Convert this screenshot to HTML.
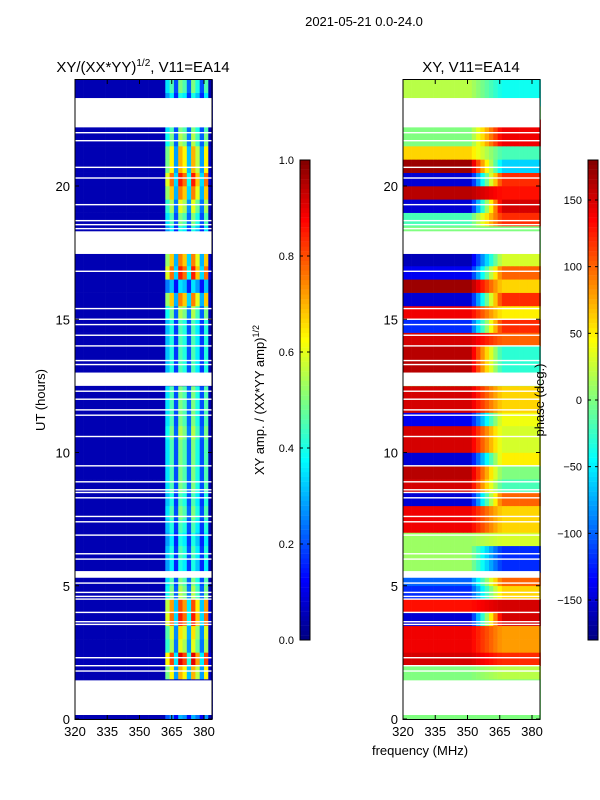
<!DOCTYPE html>
<html><head><meta charset="utf-8"><style>
body{margin:0;background:#fff;}
svg{display:block;font-family:"Liberation Sans","DejaVu Sans",sans-serif;}
</style></head><body>
<svg id="fig" width="600" height="800" viewBox="0 0 600 800">
<text x="364" y="26" font-size="13" text-anchor="middle">2021-05-21 0.0-24.0</text>
<text x="143" y="72" font-size="15" text-anchor="middle">XY/(XX*YY)<tspan font-size="10" dy="-6">1/2</tspan><tspan dy="6">, V11=EA14</tspan></text>
<text x="471" y="72" font-size="15" text-anchor="middle">XY, V11=EA14</text>
<text transform="translate(45,400) rotate(-90)" font-size="13" text-anchor="middle">UT (hours)</text>
<text x="420" y="755" font-size="13" text-anchor="middle">frequency (MHz)</text>
<text transform="translate(264,400) rotate(-90)" font-size="13" text-anchor="middle">XY amp. / (XX*YY amp)<tspan font-size="9" dy="-5">1/2</tspan></text>
<g id="left"></g>
<g id="right"></g>
<g id="cb1"></g>
<g id="cb2"></g>
<text transform="translate(544,400) rotate(-90)" font-size="13" text-anchor="middle">phase (deg.)</text>
</svg>
<script>
// data: rows at 0.5 h, hours 0..23.5
const hours = Array.from({length:48},(_,i)=>i*0.5);
const ampRow = [0.3,0,0,0.7,0.9,0.6,0.65,0.85,0.8,0.55,0.5,0.4,0.45,0.4,0.45,0.5,0.45,0.5,0.5,0.5,0.5,0.55,0.5,0.5,0.5,0,0.45,0.45,0.45,0.45,0.55,0.75,0.35,0.85,0.75,0,0.4,0.5,0.6,0.75,0.85,0.7,0.7,0.55,0.5,0,0.4,0.5];
const freqs = Array.from({length:32},(_,k)=>320+2*k);
const ampCol = [0.06,0.06,0.06,0.06,0.06,0.06,0.06,0.06,0.06,0.06,0.06,0.06,0.06,0.06,0.06,0.06,0.06,0.06,0.06,0.06,0.06,0.7,0.9,0.4,1.0,0.9,0.45,1.0,0.8,0.4,0.9,0.1];
const phaseL = [0,0,0,0,150,140,140,-150,130,-120,-100,10,10,10,140,140,-150,150,160,-150,150,150,-140,150,150,0,160,160,150,-120,140,-150,170,-140,-160,0,0,-20,-150,160,-150,170,60,0,0,0,20,20];
const phaseR = [0,0,0,20,120,80,80,150,150,60,100,-120,-120,30,60,60,100,-20,0,50,30,30,40,60,60,0,-30,-30,100,120,50,120,60,100,30,0,0,120,150,130,120,-60,-20,140,140,0,-40,-40];
const gaps = [[0.15,1.45],[5.3,5.55],[12.5,13.0],[17.45,18.3],[22.2,23.3]];
const thinGaps = [1.8,2.0,2.3,3.55,3.65,4.0,4.5,4.6,4.75,5.1,6.0,6.2,6.9,7.4,7.6,8.3,8.5,8.6,8.9,9.5,10.6,11.4,11.6,12.0,12.3,13.3,13.45,14.0,14.4,14.8,15.0,15.4,16.8,18.4,18.55,18.7,19.3,20.3,20.7,21.7,22.0];
const xTicks = [320,335,350,365,380];
const yTicks = [0,5,10,15,20];
const ampTicks = [0.0,0.2,0.4,0.6,0.8,1.0];
const phaseTicks = [-150,-100,-50,0,50,100,150];

const NS='http://www.w3.org/2000/svg';
function mk(tag,attrs,parent){const e=document.createElementNS(NS,tag);for(const k in attrs)e.setAttribute(k,attrs[k]);parent.appendChild(e);return e;}
function jet(v){v=Math.max(0,Math.min(1,v));
 const r=Math.max(0,Math.min(1,1.5-Math.abs(4*v-3))),g=Math.max(0,Math.min(1,1.5-Math.abs(4*v-2))),b=Math.max(0,Math.min(1,1.5-Math.abs(4*v-1)));
 return `rgb(${Math.round(r*255)},${Math.round(g*255)},${Math.round(b*255)})`;}
const yS=h=>719-h*26.65;
function panel(gid,x0,valFn){
 const g=document.getElementById(gid);
 const xS=f=>x0+(f-320)*2.15;
 hours.forEach((h,i)=>{freqs.forEach((f,k)=>{
   const c=mk('rect',{x:xS(f),y:yS(h+0.5),width:2.15*2+0.3,height:26.65*0.5+0.3,fill:jet(valFn(i,k,f))},g);
   
   
 });});
 gaps.forEach(([a,b])=>{const r=mk('rect',{x:x0,y:yS(b),width:137,height:yS(a)-yS(b),fill:'#fff'},g);
   
   });
 thinGaps.forEach(h=>{const r=mk('rect',{x:x0,y:yS(h)-0.7,width:137,height:1.4,fill:'#fff'},g);
   
   });
 mk('rect',{x:x0,y:79.5,width:137,height:640,fill:'none',stroke:'#000','stroke-width':1},g);
 xTicks.forEach(t=>{const x=xS(t);
   mk('line',{x1:x,x2:x,y1:719.5,y2:715,stroke:'#000'},g);
   mk('line',{x1:x,x2:x,y1:79.5,y2:84,stroke:'#000'},g);
   const tx=mk('text',{x:x,y:736,'font-size':13,'text-anchor':'middle'},g);tx.textContent=t;
   
   });
 yTicks.forEach(t=>{const y=yS(t);
   mk('line',{x1:x0,x2:x0+4,y1:y,y2:y,stroke:'#000'},g);
   mk('line',{x1:x0+137,x2:x0+133,y1:y,y2:y,stroke:'#000'},g);
   const tx=mk('text',{x:x0-5,y:y+5,'font-size':13,'text-anchor':'end'},g);tx.textContent=t;
   
   });
}
panel('left',75,(i,k)=>Math.max(0.05,ampCol[k]*ampRow[i]));
panel('right',403,(i,k,f)=>{const t=Math.max(0,Math.min(1,(f-350)/15));const p=phaseL[i]*(1-t)+phaseR[i]*t;return (p+180)/360;});

function colorbar(gid,x0,ticks,lo,hi,fmt){
 const g=document.getElementById(gid);
 const n=100;
 for(let j=0;j<n;j++){mk('rect',{x:x0,y:640-(j+1)*4.8,width:10,height:5,fill:jet((j+0.5)/n)},g);}
 mk('rect',{x:x0,y:160,width:10,height:480,fill:'none',stroke:'#000'},g);
 ticks.forEach(t=>{const y=640-(t-lo)/(hi-lo)*480;
  mk('line',{x1:x0,x2:x0+3,y1:y,y2:y,stroke:'#000'},g);
  mk('line',{x1:x0+10,x2:x0+7,y1:y,y2:y,stroke:'#000'},g);
  const tx=mk('text',{x:x0-6,y:y+4,'font-size':11,'text-anchor':'end'},g);tx.textContent=fmt(t);
  
  });
}
colorbar('cb1',300,ampTicks,0,1,t=>t.toFixed(1));
colorbar('cb2',588,phaseTicks,-180,180,t=>t<0?'\u2212'+(-t):String(t));
</script>
</body></html>
